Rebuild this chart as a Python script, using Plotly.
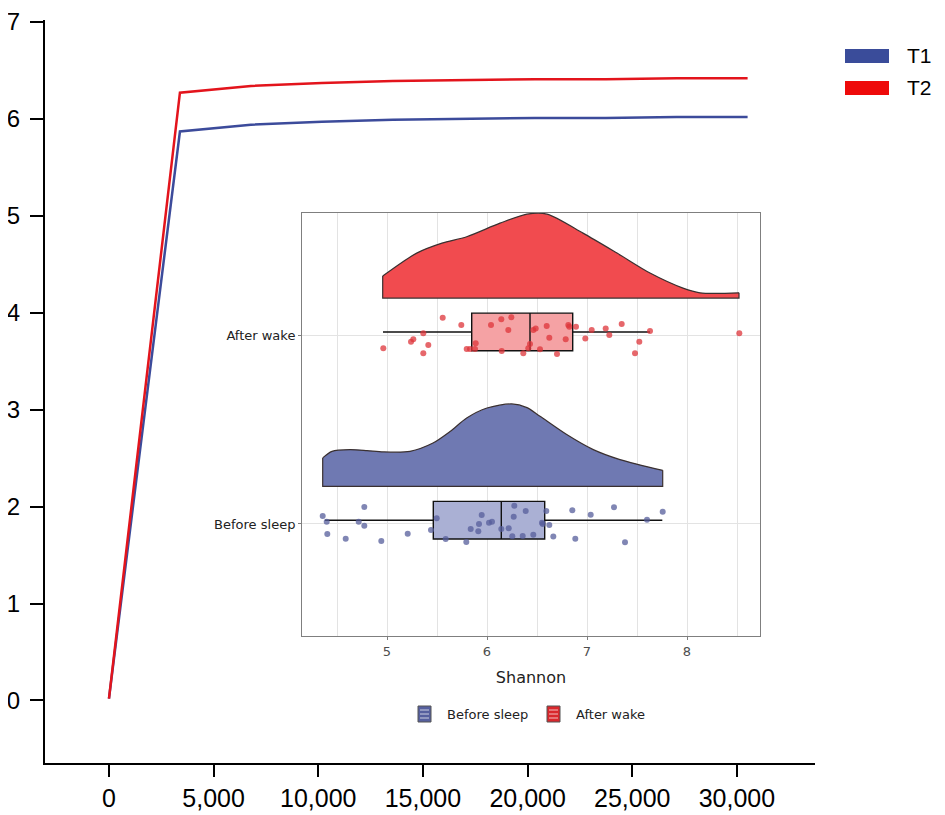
import numpy as np
import plotly.graph_objects as go

# curvas de rarefaccion (Shannon vs profundidad)
depth = [0, 3390, 6780, 10170, 13560, 16950, 20340, 23730, 27120, 30510]
t1_vals = [0.02, 5.87, 5.94, 5.97, 5.99, 6.00, 6.01, 6.01, 6.02, 6.02]
t2_vals = [0.02, 6.27, 6.34, 6.37, 6.39, 6.40, 6.41, 6.41, 6.42, 6.42]

# raincloud: densidades
aw_dens_x = [4.957, 5.297, 5.55, 5.797, 6.13, 6.40, 6.60, 6.96, 7.30, 7.63, 7.96, 8.13, 8.52]
aw_dens_h = [0.117, 0.239, 0.292, 0.326, 0.398, 0.446, 0.446, 0.345, 0.239, 0.133, 0.053, 0.028, 0.028]
bs_dens_x = [4.357, 4.45, 4.63, 4.80, 4.963, 5.23, 5.46, 5.63, 5.797, 6.0, 6.247, 6.40, 6.53, 6.797, 7.063, 7.33, 7.757]
bs_dens_h = [0.151, 0.186, 0.195, 0.19, 0.183, 0.186, 0.23, 0.291, 0.363, 0.416, 0.438, 0.418, 0.372, 0.275, 0.195, 0.142, 0.085]

# cajas (q1, mediana, q3, bigotes)
aw_box = dict(lo=4.96, q1=5.847, med=6.43, q3=6.857, hi=7.63)
bs_box = dict(lo=4.38, q1=5.463, med=6.143, q3=6.577, hi=7.753)

# puntos individuales y su jitter vertical
aw_pts = [5.557, 5.363, 5.24, 5.263, 5.413, 4.963, 5.363, 5.743, 5.797, 5.83, 5.88, 5.887, 6.04,
          6.143, 6.243, 6.213, 6.147, 6.363, 6.413, 6.43, 6.463, 6.487, 6.53, 6.597, 6.623, 6.70,
          6.787, 6.813, 6.823, 6.89, 6.983, 7.047, 7.187, 7.223, 7.347, 7.48, 7.523, 7.63, 8.523]
aw_jit = [0.096, 0.013, -0.032, -0.019, -0.049, -0.067, -0.093, 0.057, -0.071, -0.071, -0.071, -0.04, 0.057,
          0.087, 0.098, 0.03, -0.081, -0.093, -0.067, -0.044, 0.03, 0.039, -0.072, 0.052, -0.011, -0.097,
          -0.018, 0.057, 0.048, 0.048, -0.014, 0.03, 0.039, 0.004, 0.062, -0.093, -0.032, 0.025, 0.013]
bs_pts = [4.357, 4.397, 4.403, 4.587, 4.717, 4.773, 4.773, 4.943, 5.207, 5.44, 5.497, 5.587, 5.793,
          5.837, 5.913, 5.92, 5.947, 6.02, 6.05, 6.143, 6.217, 6.253, 6.267, 6.273, 6.357, 6.387,
          6.463, 6.55, 6.557, 6.593, 6.623, 6.663, 6.853, 6.883, 7.037, 7.27, 7.38, 7.6, 7.757]
bs_jit = [0.042, 0.012, -0.053, -0.078, 0.012, 0.09, -0.009, -0.09, -0.052, -0.032, 0.03, -0.08, -0.096,
          -0.027, -0.039, 0.0, 0.048, 0.007, 0.012, -0.027, -0.023, -0.065, 0.039, 0.097, -0.064, 0.069,
          -0.057, 0.007, 0.0, 0.069, -0.005, -0.067, 0.073, -0.078, 0.049, 0.089, -0.097, 0.023, 0.065]

# la pagina deja 8px de margen en el body, asi que el lienzo es algo mas chico
OFF = 8
W, H = 945 - OFF, 815 - OFF
def px(v):
    return (v - OFF) / W
def py(v):
    return 1 - (v - OFF) / H

fig = go.Figure()

# curvas principales
fig.add_trace(go.Scatter(x=depth, y=t1_vals, mode="lines", line=dict(color="#3C4B9B", width=2.5),
                         xaxis="x", yaxis="y", showlegend=False))
fig.add_trace(go.Scatter(x=depth, y=t2_vals, mode="lines", line=dict(color="#E3141C", width=2.5),
                         xaxis="x", yaxis="y", showlegend=False))

# densidades (media violin): base con bordes + curva suavizada rellenada hasta la base
for dx, dh, base, fc in [(aw_dens_x, aw_dens_h, 2.2, "#F14B4F"), (bs_dens_x, bs_dens_h, 1.2, "#6F79B2")]:
    fig.add_trace(go.Scatter(x=[dx[0], dx[0], dx[-1], dx[-1]],
                             y=[base + dh[0], base, base, base + dh[-1]],
                             mode="lines", line=dict(color="#3A3030", width=1.2),
                             xaxis="x2", yaxis="y2", showlegend=False, hoverinfo="skip"))
    fig.add_trace(go.Scatter(x=dx, y=[base + h for h in dh], mode="lines", fill="tonexty",
                             fillcolor=fc,
                             line=dict(color="#3A3030", width=1.2, shape="spline", smoothing=0.8),
                             xaxis="x2", yaxis="y2", showlegend=False, hoverinfo="skip"))

# cajas
for b, pos, fc in [(aw_box, 2.02, "#F5A2A4"), (bs_box, 1.02, "#AAB0D4")]:
    fig.add_trace(go.Box(y=[pos], q1=[b["q1"]], median=[b["med"]], q3=[b["q3"]],
                         lowerfence=[b["lo"]], upperfence=[b["hi"]], orientation="h",
                         width=0.2, whiskerwidth=0, fillcolor=fc, boxpoints=False,
                         line=dict(color="#111111", width=1.4), xaxis="x2", yaxis="y2",
                         showlegend=False))

# puntos
fig.add_trace(go.Scatter(x=aw_pts, y=2 + np.array(aw_jit), mode="markers",
                         marker=dict(color="rgba(222,52,58,0.75)", size=6), xaxis="x2", yaxis="y2",
                         showlegend=False))
fig.add_trace(go.Scatter(x=bs_pts, y=1 + np.array(bs_jit), mode="markers",
                         marker=dict(color="rgba(85,93,155,0.75)", size=6), xaxis="x2", yaxis="y2",
                         showlegend=False))

main_font = "Liberation Sans, Arial, sans-serif"
inset_font = "DejaVu Sans, sans-serif"

fig.update_layout(
    width=W, height=H,
    margin=dict(l=0, r=0, t=0, b=0),
    paper_bgcolor="white", plot_bgcolor="white",
    showlegend=False,
    xaxis=dict(domain=[px(45), px(815)], range=[-3056, 33730], anchor="y", automargin=False,
               tickvals=[0, 5000, 10000, 15000, 20000, 25000, 30000], tickformat=",",
               showline=True, linecolor="black", linewidth=2, ticks="outside", ticklen=12,
               tickwidth=2, tickcolor="black", showgrid=False, zeroline=False,
               ticklabelstandoff=0, ticklabeloverflow="allow",
               tickfont=dict(family=main_font, size=25, color="black")),
    yaxis=dict(domain=[py(763), py(20)], range=[-0.645, 7.02], anchor="x", automargin=False,
               tickvals=[0, 1, 2, 3, 4, 5, 6, 7],
               showline=True, linecolor="black", linewidth=2, ticks="outside", ticklen=13,
               tickwidth=2, tickcolor="black", showgrid=False, zeroline=False,
               ticklabelstandoff=5, ticklabeloverflow="allow",
               tickfont=dict(family=main_font, size=24, color="black")),
    xaxis2=dict(domain=[px(302), px(760)], range=[4.15, 8.73], anchor="y2", automargin=False,
                tickvals=[5, 6, 7, 8], showgrid=True, gridcolor="#E3E3E3", gridwidth=1,
                minor=dict(tickvals=[4.5, 5.5, 6.5, 7.5, 8.5], showgrid=True, gridcolor="#E3E3E3"),
                showline=True, mirror=True, linecolor="#7F7F7F", linewidth=1,
                ticks="outside", ticklen=3, tickcolor="#7F7F7F", zeroline=False,
                tickfont=dict(family=inset_font, size=13, color="#4D4D4D"),
                title=dict(text="Shannon", font=dict(family=inset_font, size=16, color="#222"),
                           standoff=14)),
    yaxis2=dict(domain=[py(636), py(213)], range=[0.405, 2.652], anchor="x2", automargin=False,
                tickvals=[1, 2], ticktext=["Before sleep", "After wake"],
                showgrid=True, gridcolor="#E3E3E3", gridwidth=1,
                showline=True, mirror=True, linecolor="#7F7F7F", linewidth=1,
                ticks="outside", ticklen=3, tickcolor="#7F7F7F", zeroline=False,
                tickfont=dict(family=inset_font, size=13, color="#222")),
)

# leyenda principal (T1 / T2)
shapes = []
annots = []
for yc, col, lab in [(56, "#3A4C9A", "T1"), (88, "#EE0A0A", "T2")]:
    shapes.append(dict(type="rect", xref="paper", yref="paper", x0=px(845), x1=px(889),
                       y0=py(yc + 7), y1=py(yc - 7), fillcolor=col, line=dict(width=0)))
    annots.append(dict(xref="paper", yref="paper", x=px(905), y=py(yc), text=lab, showarrow=False,
                       xanchor="left", yanchor="middle",
                       font=dict(family="Liberation Sans, Arial, sans-serif", size=21, color="black")))

# leyenda del recuadro
for x0, col, lab in [(418, "#56609E", "Before sleep"), (547, "#D9272C", "After wake")]:
    shapes.append(dict(type="rect", xref="paper", yref="paper", x0=px(x0), x1=px(x0 + 13),
                       y0=py(722), y1=py(706), fillcolor=col, line=dict(color="#555", width=1)))
    for yl in [710, 714, 718]:
        shapes.append(dict(type="line", xref="paper", yref="paper", x0=px(x0 + 2), x1=px(x0 + 11),
                           y0=py(yl), y1=py(yl), line=dict(color="rgba(255,255,255,0.7)", width=1)))
    annots.append(dict(xref="paper", yref="paper", x=px(x0 + 27), y=py(714), text=lab, showarrow=False,
                       xanchor="left", yanchor="middle",
                       font=dict(family=inset_font, size=13, color="#222")))

fig.update_layout(shapes=shapes, annotations=annots)

fig.write_html("out.html")
